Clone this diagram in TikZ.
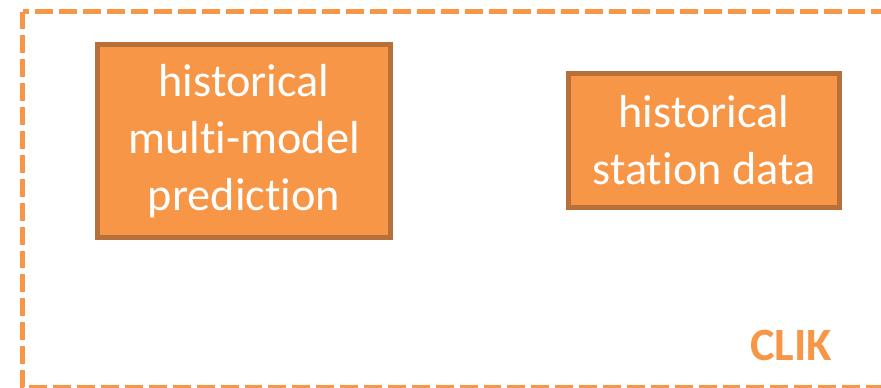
\documentclass[tikz,border=0pt]{standalone}
\usepackage{fontspec}
\setmainfont[Ligatures=NoCommon]{Carlito}
\usepackage{tikz}

\definecolor{clikorange}{HTML}{F79646}
\definecolor{clikbrown}{HTML}{B7703A}

\begin{document}
\begin{tikzpicture}[x=0.03cm, y=0.03cm]
\tikzstyle{every node}+=[inner sep=0pt]
\tikzstyle{databox}=[draw=clikbrown, fill=clikorange, line width=4.2pt, text=white, align=center, font=\fontsize{39.5}{48.5}\selectfont]
\useasboundingbox (0,0) rectangle (881,-387);
\clip (0,0) rectangle (881,-387);
\draw [clikorange, line width=3.8pt, dash pattern=on 15.3pt off 5.1pt] (22.5,-11.5) rectangle (905,-387);
\node [databox, minimum width=250.5pt, minimum height=165pt] (multimodel) at (244,-141) {historical\\multi-model\\prediction};
\node [databox, minimum width=232pt, minimum height=115pt] (station) at (704,-140.5) {historical\\station data};
\node [text=clikorange, font=\fontsize{39.5}{48.5}\selectfont\bfseries] (clik) at (791,-345) {CLIK};
\end{tikzpicture}
\end{document}
